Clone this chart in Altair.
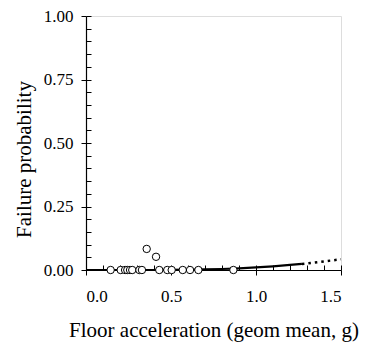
import altair as alt
import pandas as pd

# observed points (acceleration, failure fraction)
pt_x = [0.145, 0.204, 0.23, 0.243, 0.259, 0.272, 0.314, 0.329, 0.357, 0.412,
        0.431, 0.478, 0.504, 0.569, 0.612, 0.661, 0.867]
pt_y = [0, 0, 0, 0, 0, 0, 0, 0, 0.083, 0.052,
        0, 0, 0, 0, 0, 0, 0]

# fitted curve readings
solid_x = [0.0, 0.1, 0.2, 0.3, 0.4, 0.5, 0.6, 0.7, 0.8, 0.9, 1.0, 1.1, 1.2, 1.27]
solid_y = [0.0, 0.0, 0.0, 0.0, 0.0001, 0.0004, 0.0011, 0.0022, 0.004, 0.0066, 0.010, 0.0146, 0.0199, 0.024]
dash_x = [1.27, 1.3, 1.4, 1.5]
dash_y = [0.024, 0.026, 0.034, 0.042]

major_y = [0, 0.25, 0.5, 0.75, 1.0]
minor_y = [i * 0.05 for i in range(21)]
major_x = [0.0, 0.5, 1.0, 1.5]
minor_x = [i * 0.1 for i in range(16)]

FONT = "Liberation Serif"

pts = pd.DataFrame({"x": pt_x, "y": pt_y})
solid = pd.DataFrame({"x": solid_x, "y": solid_y})
dash = pd.DataFrame({"x": dash_x, "y": dash_y})

xs = alt.Scale(domain=[0, 1.5], nice=False)
ys = alt.Scale(domain=[0, 1], nice=False)

x_main = alt.X("x:Q", scale=xs, axis=alt.Axis(
    orient="bottom",
    values=major_x, format=".1f", title="Floor acceleration (geom mean, g)",
    tickSize=5, tickColor="black", domainColor="black", domainWidth=1.2,
    labelFont=FONT, labelFontSize=17, labelColor="black", labelPadding=13,
    titleFont=FONT, titleFontSize=21, titleFontWeight="normal", titleColor="black",
    titlePadding=15, grid=False))
y_main = alt.Y("y:Q", scale=ys, axis=alt.Axis(
    orient="left",
    values=major_y, format=".2f", title="Failure probability",
    tickSize=5, tickColor="black", domainColor="black", domainWidth=1.2,
    labelFont=FONT, labelFontSize=17, labelColor="black", labelPadding=8,
    titleFont=FONT, titleFontSize=21, titleFontWeight="normal", titleColor="black",
    titlePadding=9, titleY=143, grid=False))

base_line = alt.Chart(solid).mark_line(color="black", strokeWidth=2.2).encode(x=x_main, y=y_main)

dashed = alt.Chart(dash).mark_line(color="black", strokeWidth=2.5, strokeDash=[2.5, 4]).encode(
    x=alt.X("x:Q", scale=xs, axis=None), y=alt.Y("y:Q", scale=ys, axis=None))

points = alt.Chart(pts).mark_point(shape="circle", filled=True, fill="white", stroke="black",
                                   strokeWidth=1, size=55, opacity=1).encode(
    x=alt.X("x:Q", scale=xs, axis=None), y=alt.Y("y:Q", scale=ys, axis=None))

# inward minor ticks
minor_layer = alt.Chart(pts).mark_point(opacity=0).encode(
    x=alt.X("x:Q", scale=xs, axis=alt.Axis(values=minor_x, labels=False, title=None,
                                           domain=False, tickSize=5, offset=-5,
                                           tickColor="black", grid=False, orient="bottom")),
    y=alt.Y("y:Q", scale=ys, axis=alt.Axis(values=minor_y, labels=False, title=None,
                                           domain=False, tickSize=5, offset=-5,
                                           tickColor="black", grid=False, orient="left")))

chart = alt.layer(minor_layer, base_line, dashed, points).resolve_axis(
    x="independent", y="independent").properties(
    width=255, height=254,
    autosize=alt.AutoSizeParams(type="none"),
    padding={"left": 86, "top": 16, "right": 27, "bottom": 76},
).configure_view(stroke="#555", strokeWidth=1.2).configure(background="white")

chart.save("out.html", embed_options={"renderer": "svg", "actions": False})
